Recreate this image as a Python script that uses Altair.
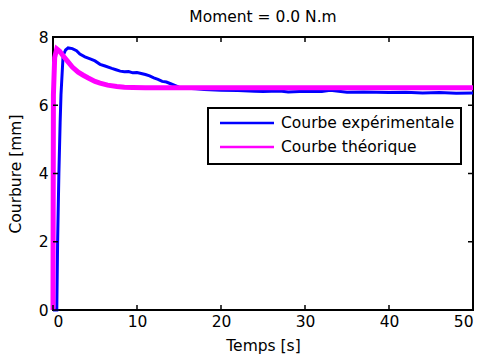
import altair as alt
import pandas as pd

FONT = "DejaVu Sans"
FS = 15.5

# ---- data ----
exp_t = [0, 0.45, 0.55, 0.7, 0.85, 0.95, 1.2, 1.5, 1.8, 2.3, 2.8, 3.2, 3.8, 4.5, 5, 5.6,
         6.2, 7, 7.5, 8, 8.5, 9, 9.5, 10, 10.5, 11, 11.5, 12, 12.5, 13, 13.5, 14, 14.5,
         15, 16, 17, 18, 20, 22, 24, 25, 27, 28, 30, 32, 33, 35, 37, 40, 42, 44, 46, 48, 50]
exp_c = [0, 0, 2.0, 4.0, 5.5, 6.3, 7.45, 7.62, 7.68, 7.66, 7.6, 7.5, 7.42, 7.35, 7.3, 7.2,
         7.15, 7.08, 7.04, 7.0, 6.98, 6.99, 6.95, 6.96, 6.93, 6.9, 6.86, 6.8, 6.76, 6.7, 6.68, 6.63, 6.58,
         6.53, 6.5, 6.48, 6.46, 6.44, 6.43, 6.41, 6.40, 6.42, 6.39, 6.41, 6.40, 6.44, 6.38, 6.39, 6.37, 6.38, 6.36, 6.37, 6.35, 6.36]

th_t = [0, 0.02, 0.05, 0.2, 0.45, 0.8, 1.2, 1.7, 2.3, 3, 3.6, 4.2, 5, 5.6, 6.5, 7.6, 8.5, 9.5, 11, 13, 50]
th_c = [0, 3.0, 6.3, 7.4, 7.65, 7.58, 7.45, 7.3, 7.12, 6.97, 6.88, 6.8, 6.7, 6.65, 6.59, 6.55, 6.53, 6.52, 6.51, 6.51, 6.51]

series_names = ["Courbe expérimentale", "Courbe théorique"]
series_colors = ["#0000FF", "#FF00FF"]

x_ticks = [0, 10, 20, 30, 40, 50]
y_ticks = [0, 2, 4, 6, 8]

W, H = 420, 273

exp_df = pd.DataFrame({"t": exp_t, "c": exp_c})
th_df = pd.DataFrame({"t": th_t, "c": th_c})
xt_df = pd.DataFrame({"t": x_ticks})
yt_df = pd.DataFrame({"c": y_ticks})

common = dict(grid=False, domain=False, ticks=False,
              labelFont=FONT, labelFontSize=FS, labelColor="black",
              titleFont=FONT, titleFontSize=FS, titleFontWeight="normal", titleColor="black")
x_axis = alt.Axis(values=x_ticks, title="Temps [s]", labelPadding=4, titlePadding=9, **common)
y_axis = alt.Axis(values=y_ticks, title="Courbure [mm]", labelPadding=5, titlePadding=15, **common)
x_scale = alt.Scale(domain=[0, 50], nice=False)
y_scale = alt.Scale(domain=[0, 8], nice=False)

X = alt.X("t:Q", scale=x_scale, axis=x_axis)
Y = alt.Y("c:Q", scale=y_scale, axis=y_axis)

exp_line = alt.Chart(exp_df).mark_line(color=series_colors[0], strokeWidth=3).encode(x=X, y=Y)
th_line = alt.Chart(th_df).mark_line(color=series_colors[1], strokeWidth=5).encode(x=X, y=Y)

tick_bottom = alt.Chart(xt_df).mark_rule(color="black", strokeWidth=1.5).encode(
    x=X, y=alt.value(H), y2=alt.value(H - 5))
tick_top = alt.Chart(xt_df).mark_rule(color="black", strokeWidth=1.5).encode(
    x=X, y=alt.value(0), y2=alt.value(5))
tick_left = alt.Chart(yt_df).mark_rule(color="black", strokeWidth=1.5).encode(
    y=Y, x=alt.value(0), x2=alt.value(5))
tick_right = alt.Chart(yt_df).mark_rule(color="black", strokeWidth=1.5).encode(
    y=Y, x=alt.value(W), x2=alt.value(W - 5))

# ---- legend box (manual) ----
leg_df = pd.DataFrame({"label": series_names})
leg_box = alt.Chart(leg_df.head(1)).mark_rect(fill="white", stroke="black", strokeWidth=2).encode(
    x=alt.value(155), x2=alt.value(408), y=alt.value(71), y2=alt.value(127))
leg_layers = [leg_box]
for i, (name, col) in enumerate(zip(series_names, series_colors)):
    d = pd.DataFrame({"label": [name]})
    yy = 86 + 24 * i
    leg_layers.append(alt.Chart(d).mark_rule(color=col, strokeWidth=2.5).encode(
        x=alt.value(167), x2=alt.value(221), y=alt.value(yy)))
    leg_layers.append(alt.Chart(d).mark_text(align="left", baseline="middle", font=FONT,
                                             fontSize=FS, color="black").encode(
        x=alt.value(228), y=alt.value(yy), text="label:N"))

chart = alt.layer(
    exp_line, th_line, tick_bottom, tick_top, tick_left, tick_right, *leg_layers
).properties(
    width=W, height=H,
    background="white",
    title=alt.TitleParams("Moment = 0.0 N.m", font=FONT, fontSize=FS, fontWeight="normal",
                          color="black", anchor="middle", frame="group", offset=5),
    autosize=alt.AutoSizeParams(type="none"),
    padding={"left": 53, "top": 37, "right": 9, "bottom": 48},
).configure_view(
    stroke="black", strokeWidth=2
)

chart.save("out.html", embed_options={"renderer": "svg", "actions": False})
